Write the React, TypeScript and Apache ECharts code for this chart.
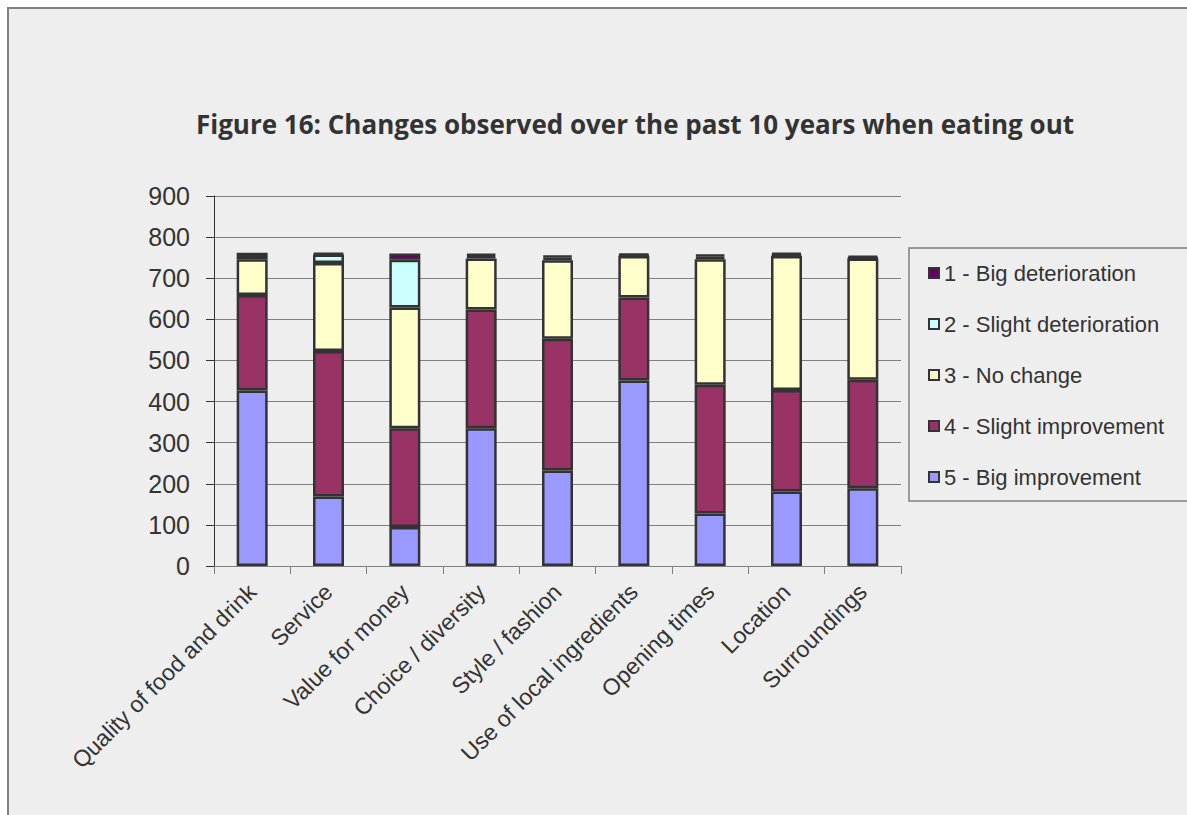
import React, { useEffect, useRef } from "react";
import * as echarts from "echarts";

// Survey answers per aspect of eating out (number of respondents)
const categories = [
  "Quality of food and drink",
  "Service",
  "Value for money",
  "Choice / diversity",
  "Style / fashion",
  "Use of local ingredients",
  "Opening times",
  "Location",
  "Surroundings",
];
const bigImprovement = [427, 169, 95, 335, 232, 451, 128, 181, 189];
const slightImprovement = [232, 354, 240, 289, 321, 202, 313, 247, 264];
const noChange = [87, 214, 294, 124, 191, 101, 305, 326, 295];
const slightDeterioration = [8, 21, 116, 6, 6, 2, 6, 3, 2];
const bigDeterioration = [8, 3, 15, 6, 6, 4, 6, 5, 5];

const seriesNames = [
  "5 - Big improvement",
  "4 - Slight improvement",
  "3 - No change",
  "2 - Slight deterioration",
  "1 - Big deterioration",
];
const seriesColors = ["#9999FF", "#993366", "#FFFFCC", "#CCFFFF", "#660066"];
const seriesValues = [
  bigImprovement,
  slightImprovement,
  noChange,
  slightDeterioration,
  bigDeterioration,
];

const titleText = "Figure 16: Changes observed over the past 10 years when eating out";
const FONT = "'Liberation Sans', Arial, sans-serif";

export default function App() {
  const ref = useRef<HTMLDivElement>(null);

  useEffect(() => {
    if (!ref.current) return;
    const chart = echarts.init(ref.current, null, { renderer: "svg" });
    chart.setOption({
      animation: false,
      backgroundColor: "transparent",
      textStyle: { fontFamily: FONT },
      graphic: [
        {
          type: "text",
          x: 635,
          y: 124,
          style: {
            text: titleText,
            fontSize: 26,
            fontWeight: 700,
            fontFamily: "'Open Sans', 'DejaVu Sans', sans-serif",
            fill: "#333333",
            align: "center",
            verticalAlign: "middle",
          },
        },
        {
          type: "rect",
          shape: { x: 909, y: 248, width: 300, height: 253 },
          style: { fill: "transparent", stroke: "#808080", lineWidth: 1.5 },
        },
      ],
      legend: {
        orient: "vertical",
        left: 928,
        top: 262,
        padding: 0,
        itemWidth: 10,
        itemHeight: 10,
        itemGap: 29,
        icon: "rect",
        data: [...seriesNames].reverse(),
        textStyle: {
          fontSize: 22,
          lineHeight: 22,
          color: "#333333",
          fontFamily: FONT,
        },
      },
      grid: { left: 214, right: 286, top: 196, bottom: 249, containLabel: false },
      xAxis: {
        type: "category",
        data: categories,
        axisLine: { show: true, lineStyle: { color: "#808080", width: 1 } },
        axisTick: { show: true, length: 8, lineStyle: { color: "#808080" } },
        axisLabel: {
          interval: 0,
          rotate: 45,
          margin: 22,
          fontSize: 23,
          color: "#333333",
          fontFamily: FONT,
        },
      },
      yAxis: {
        type: "value",
        min: 0,
        max: 900,
        interval: 100,
        axisLine: { show: true, lineStyle: { color: "#333333", width: 1 } },
        axisTick: { show: true, length: 8, lineStyle: { color: "#333333" } },
        axisLabel: { fontSize: 25, color: "#333333", margin: 24, fontFamily: FONT },
        splitLine: { show: true, lineStyle: { color: "#808080", width: 1 } },
      },
      series: seriesNames.map((name, i) => ({
        name,
        type: "bar",
        stack: "total",
        barWidth: 31,
        data: seriesValues[i],
        itemStyle: {
          color: seriesColors[i],
          borderColor: "#333333",
          borderWidth: 2.5,
        },
      })),
    });
    return () => chart.dispose();
  }, []);

  return (
    <div
      style={{
        position: "fixed",
        left: 0,
        top: 0,
        width: 1187,
        height: 815,
        background: "#ffffff",
        overflow: "hidden",
      }}
    >
      <div
        style={{
          position: "absolute",
          left: 7,
          top: 7,
          width: 1200,
          height: 830,
          background: "#eeeeee",
          borderLeft: "2px solid #808080",
          borderTop: "2px solid #808080",
        }}
      />
      <div
        ref={ref}
        style={{ position: "absolute", left: 0, top: 0, width: 1187, height: 815 }}
      />
    </div>
  );
}
